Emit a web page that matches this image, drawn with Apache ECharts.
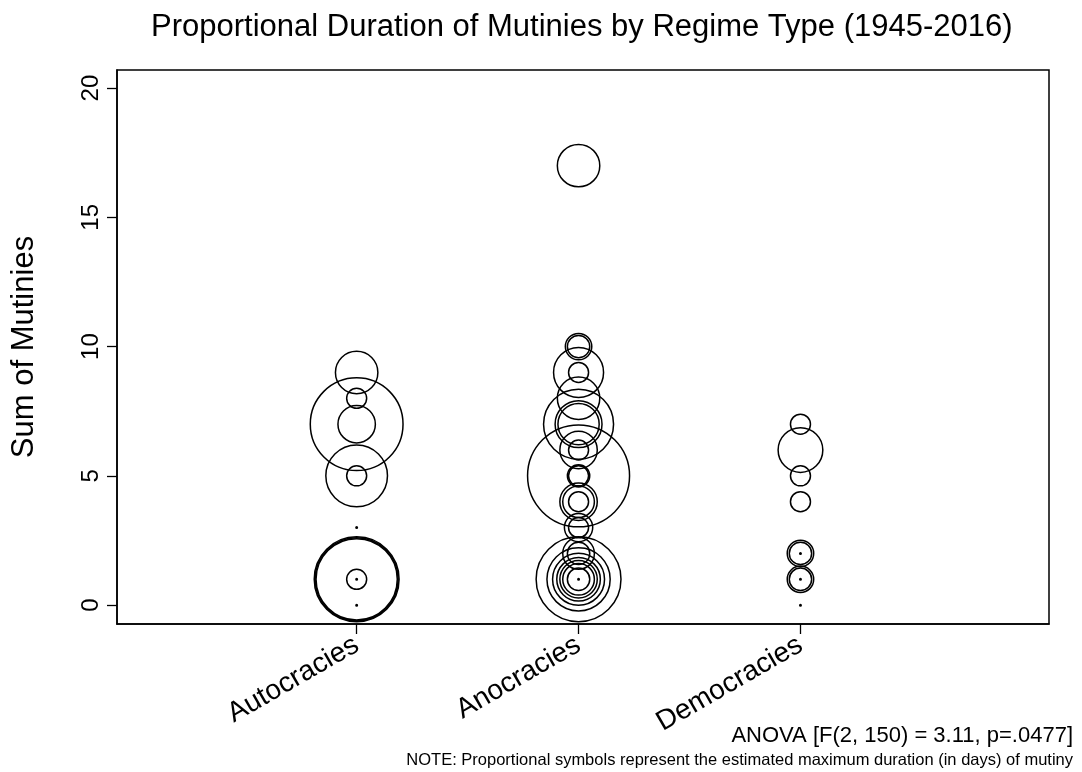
<!DOCTYPE html>
<html>
<head>
<meta charset="utf-8">
<script src="https://cdn.jsdelivr.net/npm/echarts@6/dist/echarts.min.js"></script>
<style>
  html, body { margin: 0; padding: 0; background: #fff; }
  #main { width: 1082px; height: 772px; }
</style>
</head>
<body>
<div id="main"></div>
<script>
// categorias (regimen)
var regimes = ['Autocracies', 'Anocracies', 'Democracies'];
var yTicks = [0, 5, 10, 15, 20];

// suma de motines y duracion maxima estimada (dias) por circulo
var autoSum = [9, 8, 7, 7, 5, 5, 3, 1, 1, 1, 1, 1, 0];
var autoDays = [18, 4, 86, 14, 38, 4, 0, 66, 69, 72, 4, 0, 0];

var anoSum = [17, 10, 10, 9, 9, 8, 7, 7, 7, 6, 6, 5, 5, 5, 4, 4, 4, 3, 3, 2, 2, 1, 1, 1, 1, 1, 1, 1, 1];
var anoDays = [18, 7, 5, 25, 4, 18, 49, 22, 17, 14, 4, 104, 5, 4, 14, 10, 4, 8, 4, 10, 5, 72, 40, 27, 19, 14, 10, 5, 0];

var demoSum = [7, 6, 5, 4, 2, 2, 2, 1, 1, 1, 0];
var demoDays = [4, 20, 4, 4, 7, 5, 0, 7, 5, 0, 0];

var FONT = 'Liberation Sans, Arial, sans-serif';

function buildPoints(xPos, sums, days) {
  return sums.map(function (s, i) {
    return [xPos, s, days[i]];
  });
}

function circleSize(val) {
  return val[2] > 0 ? 10 * Math.sqrt(val[2]) : 1.5;
}

function makeSeries(name, data) {
  return {
    name: name,
    type: 'scatter',
    data: data,
    symbol: 'circle',
    symbolSize: circleSize,
    itemStyle: {
      color: 'rgba(0,0,0,0)',
      borderColor: '#000',
      borderWidth: 1.5,
      opacity: 1
    },
    emphasis: { disabled: true },
    silent: true
  };
}

var myChart = echarts.init(document.getElementById('main'));

var option = {
  backgroundColor: '#fff',
  animation: false,
  textStyle: { fontFamily: FONT },
  title: {
    text: 'Proportional Duration of Mutinies by Regime Type (1945-2016)',
    left: 146,
    top: 7,
    textStyle: { fontSize: 31, fontWeight: 'normal', color: '#000', fontFamily: FONT }
  },
  grid: {
    left: 117, right: 33, top: 70, bottom: 148,
    show: true, borderColor: '#000', borderWidth: 1.5, backgroundColor: '#fff'
  },
  xAxis: {
    type: 'value',
    min: -0.08,
    max: 4.12,
    splitLine: { show: false },
    axisLine: { show: true, onZero: false, lineStyle: { color: '#000', width: 1.5 } },
    axisTick: { show: true, customValues: [1, 2, 3], length: 10, lineStyle: { color: '#000', width: 1.3 } },
    axisLabel: {
      customValues: [1, 2, 3],
      rotate: 30,
      margin: 19,
      fontSize: 28,
      color: '#000',
      formatter: function (v) { return regimes[Math.round(v) - 1] || ''; }
    }
  },
  yAxis: {
    type: 'value',
    min: -0.73,
    max: 20.7,
    name: 'Sum of Mutinies',
    nameLocation: 'middle',
    nameGap: 77,
    nameTextStyle: { fontSize: 31, color: '#000' },
    splitLine: { show: false },
    axisLine: { show: true, onZero: false, lineStyle: { color: '#000', width: 1.5 } },
    axisTick: { show: true, customValues: yTicks, length: 10, lineStyle: { color: '#000', width: 1.3 } },
    axisLabel: {
      customValues: yTicks,
      rotate: 90,
      margin: 14,
      fontSize: 24,
      color: '#000'
    }
  },
  graphic: [
    {
      type: 'text',
      right: 9,
      top: 725,
      style: { text: 'ANOVA [F(2, 150) = 3.11, p=.0477]', fontSize: 22, fill: '#000', fontFamily: FONT }
    },
    {
      type: 'text',
      right: 9,
      top: 752,
      style: { text: 'NOTE: Proportional symbols represent the estimated maximum duration (in days) of mutiny', fontSize: 16.5, fill: '#000', fontFamily: FONT }
    }
  ],
  series: [
    makeSeries(regimes[0], buildPoints(1, autoSum, autoDays)),
    makeSeries(regimes[1], buildPoints(2, anoSum, anoDays)),
    makeSeries(regimes[2], buildPoints(3, demoSum, demoDays))
  ]
};

myChart.setOption(option);
</script>
</body>
</html>
